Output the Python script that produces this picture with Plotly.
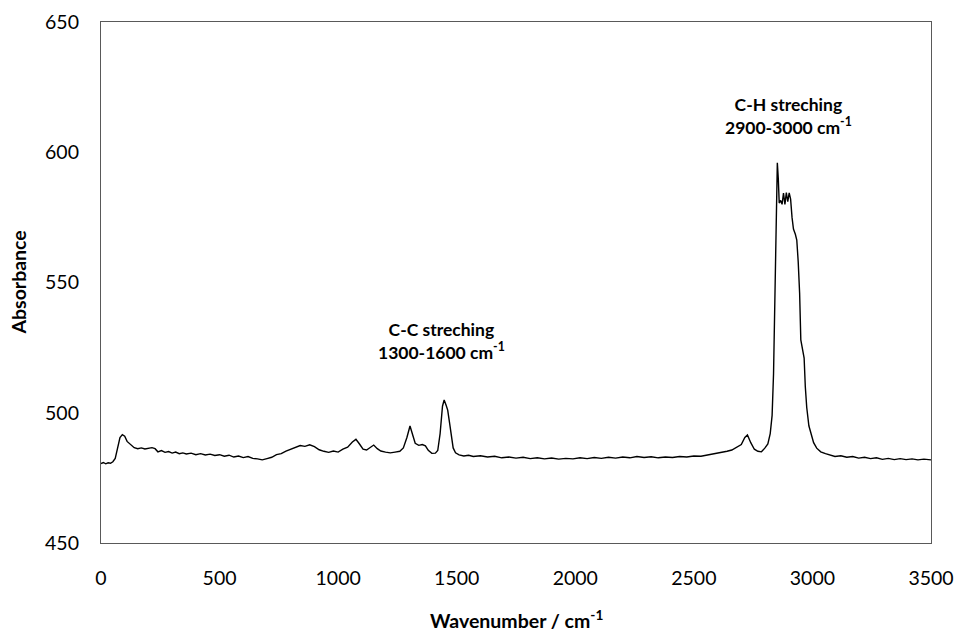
import plotly.graph_objects as go

wavenumber = [
    0, 10, 20, 30, 40, 50, 60, 70, 80, 90, 100, 110, 120, 130, 140, 155, 170, 185, 200, 215,
    228, 240, 255, 270, 285, 300, 315, 330, 345, 360, 380, 400, 420, 440, 460, 480, 500, 520,
    540, 560, 580, 600, 620, 640, 660, 680, 700, 720, 740, 760, 780, 800, 820, 840, 860, 880,
    900, 920, 940, 960, 980, 1000, 1020, 1040, 1060, 1075, 1090, 1105, 1120, 1135, 1150, 1165,
    1180, 1200, 1220, 1240, 1260, 1275, 1290, 1303, 1315, 1325, 1340, 1355, 1368, 1380, 1395,
    1410, 1420, 1430, 1440, 1447, 1455, 1462, 1470, 1477, 1485, 1495, 1510, 1530, 1550, 1570,
    1600, 1630, 1660, 1690, 1720, 1750, 1780, 1810, 1840, 1870, 1900, 1930, 1960, 1990, 2020,
    2050, 2080, 2110, 2140, 2170, 2200, 2230, 2260, 2290, 2320, 2350, 2380, 2410, 2440, 2470,
    2500, 2530, 2560, 2590, 2620, 2640, 2660, 2680, 2700, 2715, 2726, 2740, 2755, 2770, 2785,
    2800, 2812, 2822, 2830, 2836, 2842, 2848, 2852, 2856, 2860, 2866, 2872, 2878, 2884, 2890,
    2896, 2902, 2908, 2914, 2920, 2928, 2934, 2940, 2946, 2951, 2958, 2965, 2970, 2976, 2985,
    2993, 3005, 3018, 3035, 3055, 3075, 3095, 3120, 3145, 3170, 3195, 3220, 3245, 3270, 3295,
    3320, 3345, 3370, 3395, 3420, 3445, 3470, 3500,
]

absorbance = [
    480.5, 480.9, 480.4, 480.8, 480.6, 481.2, 482.5, 486.5, 490.5, 491.6, 491.0, 489.0, 488.2,
    487.3, 486.6, 486.2, 486.5, 486.1, 486.4, 486.6, 486.2, 485.0, 485.5, 484.8, 485.1, 484.5,
    484.9, 484.3, 484.6, 484.2, 484.5, 483.9, 484.3, 483.8, 484.1, 483.6, 483.9, 483.3, 483.7,
    483.0, 483.4, 482.8, 483.2, 482.5, 482.3, 481.9, 482.4, 482.9, 483.9, 484.3, 485.3, 486.0,
    486.8, 487.4, 487.1, 487.7, 487.0, 485.8, 485.2, 484.8, 485.3, 484.9, 486.0, 486.8, 488.8,
    489.8, 488.0, 486.0, 485.7, 486.5, 487.6, 486.2, 485.3, 484.9, 484.6, 484.9, 485.2, 486.5,
    490.5, 494.9, 491.0, 488.3, 487.5, 487.8, 487.3, 485.6, 484.4, 484.5, 485.5, 492.0, 502.5,
    504.9, 503.0, 501.0, 496.0, 491.0, 486.5, 484.6, 483.8, 483.4, 483.7, 483.2, 483.5, 483.0,
    483.3, 482.7, 483.0, 482.6, 482.9, 482.4, 482.7, 482.3, 482.6, 482.2, 482.5, 482.3, 482.7,
    482.4, 482.8, 482.5, 482.9, 482.6, 483.0, 482.7, 483.2, 482.8, 483.1, 482.7, 483.0, 482.8,
    483.2, 483.0, 483.4, 483.3, 483.8, 484.3, 484.7, 485.2, 485.7, 486.8, 487.8, 490.5, 491.5,
    488.5, 486.0, 485.2, 485.0, 486.5, 488.0, 492.0, 499.0, 515.0, 548.0, 582.0, 596.0, 590.0,
    580.5, 581.5, 580.0, 584.3, 580.0, 584.5, 581.0, 584.4, 582.0, 575.0, 570.5, 568.5, 566.3,
    558.0, 546.0, 528.0, 523.5, 521.0, 510.0, 502.0, 495.0, 492.0, 488.5, 486.4, 485.0, 484.3,
    483.8, 483.2, 483.5, 482.9, 483.2, 482.6, 482.9, 482.4, 482.7, 482.1, 482.5, 482.0, 482.4,
    482.0, 482.3, 481.9, 482.2, 481.9,
]

x_ticks = [0, 500, 1000, 1500, 2000, 2500, 3000, 3500]
y_ticks = [450, 500, 550, 600, 650]

annotations_text = [
    "C-C streching<br>1300-1600 cm<sup>-1</sup>",
    "C-H streching<br>2900-3000 cm<sup>-1</sup>",
]
annotations_x = [1437, 2901]
annotations_y = [527.5, 614]

FONT = "Lato"

fig = go.Figure()
fig.add_trace(go.Scatter(
    x=wavenumber, y=absorbance, mode="lines",
    line=dict(color="black", width=1.4),
    showlegend=False, hoverinfo="skip",
))

for t, ax, ay in zip(annotations_text, annotations_x, annotations_y):
    fig.add_annotation(
        x=ax, y=ay, xref="x", yref="y", text="<b>" + t + "</b>",
        showarrow=False, align="center",
        font=dict(family=FONT, size=17.5, color="black"),
    )

# axis titles placed in paper coordinates (plot area spans the paper box)
fig.add_annotation(
    x=0.5, y=-0.147, xref="paper", yref="paper", xanchor="center", yanchor="middle",
    text="<b>Wavenumber / cm<sup>-1</sup></b>", showarrow=False,
    font=dict(family=FONT, size=19.5, color="black"),
)
fig.add_annotation(
    x=-0.1, y=0.5, xref="paper", yref="paper", xanchor="center", yanchor="middle",
    text="<b>Absorbance</b>", showarrow=False, textangle=-90,
    font=dict(family=FONT, size=19.5, color="black"),
)

axis_common = dict(
    showgrid=False, zeroline=False, showline=True, linecolor="#595959",
    linewidth=1.2, mirror=True, ticks="outside", ticklen=17,
    tickcolor="rgba(0,0,0,0)", automargin=False,
    tickfont=dict(family=FONT, size=19.5, color="black"),
)

fig.update_xaxes(
    range=[0, 3500], tickvals=x_ticks, ticktext=[str(v) for v in x_ticks],
    **axis_common,
)
fig.update_yaxes(
    range=[450, 650], tickvals=y_ticks, ticktext=[str(v) for v in y_ticks],
    **axis_common,
)

fig.update_layout(
    width=957, height=632,
    margin=dict(l=101, r=26, t=22, b=89),
    plot_bgcolor="white", paper_bgcolor="white",
)

fig.write_html("out.html")
